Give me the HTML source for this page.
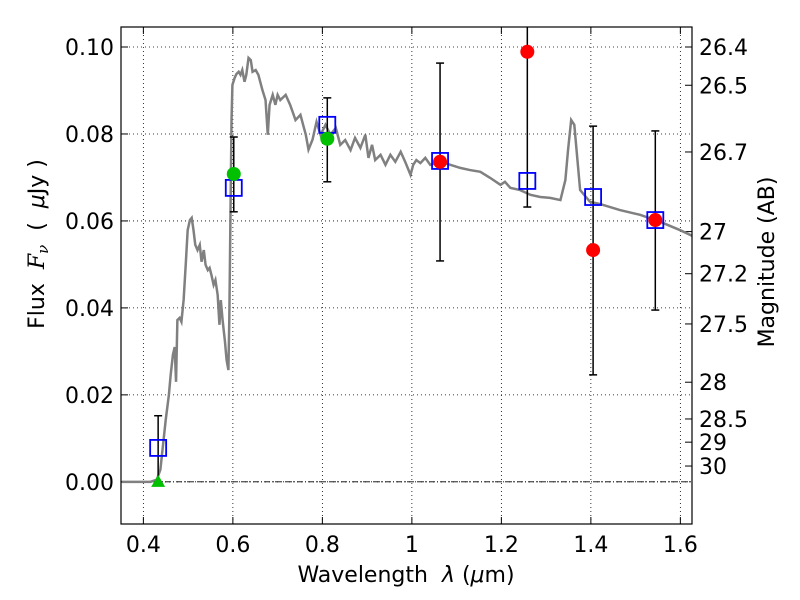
<!DOCTYPE html>
<html><head><meta charset="utf-8"><style>
body{margin:0;background:#fff}
svg{display:block;font-family:"DejaVu Sans","Liberation Sans",sans-serif}
</style></head><body>
<svg id="chart" width="800" height="600"></svg>
<script>
const specWave=[0.352,0.416,0.430,0.438,0.450,0.457,0.461,0.466,0.470,0.473,0.476,0.481,0.485,0.490,0.495,0.499,0.504,0.508,0.512,0.516,0.521,0.526,0.530,0.535,0.539,0.544,0.548,0.552,0.557,0.561,0.566,0.570,0.573,0.577,0.582,0.586,0.590,0.592,0.595,0.597,0.599,0.604,0.608,0.613,0.617,0.621,0.626,0.630,0.635,0.640,0.644,0.651,0.657,0.666,0.673,0.678,0.682,0.689,0.695,0.700,0.706,0.718,0.728,0.740,0.751,0.763,0.769,0.778,0.787,0.796,0.807,0.818,0.830,0.840,0.851,0.863,0.873,0.885,0.896,0.903,0.911,0.918,0.930,0.941,0.952,0.963,0.975,0.985,0.997,1.003,1.010,1.019,1.030,1.041,1.063,1.086,1.108,1.130,1.153,1.175,1.198,1.208,1.220,1.242,1.265,1.287,1.309,1.332,1.343,1.349,1.356,1.363,1.370,1.376,1.398,1.420,1.465,1.510,1.555,1.599,1.626];
const specFlux=[0,0,0.0005,0.0028,0.0143,0.0200,0.0246,0.0292,0.0310,0.0230,0.0372,0.0377,0.0368,0.0419,0.0506,0.0579,0.0602,0.0607,0.0579,0.0545,0.0533,0.0545,0.0506,0.0533,0.0499,0.0487,0.0492,0.0476,0.0453,0.0464,0.0430,0.0361,0.0418,0.0372,0.0326,0.0280,0.0257,0.0372,0.0648,0.0832,0.0913,0.0929,0.0938,0.0943,0.0936,0.0947,0.0920,0.0936,0.0975,0.0970,0.0943,0.0947,0.0936,0.0901,0.0878,0.0798,0.0867,0.0890,0.0867,0.0890,0.0878,0.0890,0.0867,0.0832,0.0844,0.0798,0.0764,0.0787,0.0828,0.0798,0.0821,0.0798,0.0814,0.0775,0.0786,0.0763,0.0791,0.0768,0.0798,0.0745,0.0775,0.0740,0.0752,0.0729,0.0752,0.0736,0.0759,0.0736,0.0706,0.0729,0.0740,0.0733,0.0745,0.0729,0.0736,0.0729,0.0722,0.0717,0.0713,0.0699,0.0683,0.0690,0.0676,0.0671,0.0660,0.0655,0.0653,0.0648,0.0694,0.0763,0.0832,0.0821,0.0740,0.0671,0.0644,0.0639,0.0625,0.0614,0.0598,0.0579,0.0566];
const modelWave=[0.433,0.602,0.811,1.063,1.258,1.405,1.544];
const modelFlux=[0.0078,0.0676,0.0821,0.0738,0.0692,0.0655,0.0602];
const obsWave=[0.433,0.602,0.811,1.063,1.258,1.405,1.544];
const obsFlux=[0,0.0708,0.0789,0.0736,0.0989,0.0533,0.0602];
const errLow=[0,0.0621,0.0690,0.0508,0.0632,0.0246,0.0395];
const errHigh=[0.0152,0.0793,0.0883,0.0963,0.135,0.0818,0.0807];
const obsKind=['tri','green','green','red','red','red','red'];
const xTicks=[0.4,0.6,0.8,1.0,1.2,1.4,1.6];
const xTickLabels=['0.4','0.6','0.8','1','1.2','1.4','1.6'];
const yTicks=[0,0.02,0.04,0.06,0.08,0.10];
const yTickLabels=['0.00','0.02','0.04','0.06','0.08','0.10'];
const magTicks=[26.4,26.5,26.7,27,27.2,27.5,28,28.5,29,30];

const L=121,R=692,T=27,B=524,X0=0.35,X1=1.626,Y0=-0.0097,Y1=0.1046;
const sx=v=>L+(v-X0)/(X1-X0)*(R-L);
const sy=v=>B-(v-Y0)/(Y1-Y0)*(B-T);
const svg=document.getElementById('chart');
const NS='http://www.w3.org/2000/svg';
function mk(tag,attrs,parent){const e=document.createElementNS(NS,tag);for(const k in attrs)e.setAttribute(k,attrs[k]);(parent||svg).appendChild(e);return e;}
const clip=mk('clipPath',{id:'pc'});mk('rect',{x:L,y:T,width:R-L,height:B-T},clip);

xTicks.forEach((t,i)=>{const g=mk('line',{x1:sx(t),x2:sx(t),y1:T,y2:B,stroke:'#000','stroke-dasharray':'1,3','stroke-width':0.8});


const tx=mk('text',{x:sx(t),y:B+28,'font-size':22,'text-anchor':'middle'});tx.textContent=xTickLabels[i];


mk('line',{x1:sx(t),x2:sx(t),y1:B,y2:B-7,stroke:'#000'});mk('line',{x1:sx(t),x2:sx(t),y1:T,y2:T+7,stroke:'#000'});});
yTicks.forEach((t,i)=>{const g=mk('line',{x1:L,x2:R,y1:sy(t),y2:sy(t),stroke:'#000','stroke-dasharray':'1,3','stroke-width':0.8});


const tx=mk('text',{x:L-7,y:sy(t)+8,'font-size':22,'text-anchor':'end'});tx.textContent=yTickLabels[i];


mk('line',{x1:L,x2:L+7,y1:sy(t),y2:sy(t),stroke:'#000'});});
magTicks.forEach(m=>{const f=Math.pow(10,(23.9-m)/2.5);const y=sy(f);
mk('line',{x1:R,x2:R-7,y1:y,y2:y,stroke:'#000'});
const tx=mk('text',{x:R+7,y:y+8,'font-size':22});tx.textContent=String(m);

});
const zl=mk('line',{x1:L,x2:R,y1:sy(0),y2:sy(0),stroke:'#000','stroke-width':0.8,'stroke-dasharray':'6,2,1,2'});



const g=mk('g',{'clip-path':'url(#pc)'});
const sp=mk('polyline',{points:specWave.map((w,i)=>sx(w)+','+sy(specFlux[i])).join(' '),fill:'none',stroke:'#808080','stroke-width':2.5},g);


obsWave.forEach((w,i)=>{const x=sx(w);const e=mk('g',{},g);


mk('line',{x1:x,x2:x,y1:sy(errLow[i]),y2:sy(errHigh[i]),stroke:'#000','stroke-width':1.5},e);
mk('line',{x1:x-4,x2:x+4,y1:sy(errLow[i]),y2:sy(errLow[i]),stroke:'#000','stroke-width':1.5},e);
mk('line',{x1:x-4,x2:x+4,y1:sy(errHigh[i]),y2:sy(errHigh[i]),stroke:'#000','stroke-width':1.5},e);});
modelWave.forEach((w,i)=>{const r=mk('rect',{x:sx(w)-8,y:sy(modelFlux[i])-8,width:16,height:16,fill:'none',stroke:'#0000ff','stroke-width':1.8},g);

});
obsWave.forEach((w,i)=>{const x=sx(w),y=sy(obsFlux[i]);let m;
if(obsKind[i]==='tri'){m=mk('polygon',{points:`${x},${y-7} ${x-7},${y+5} ${x+7},${y+5}`,fill:'#00c000'},g);}
else{m=mk('circle',{cx:x,cy:y,r:7,fill:obsKind[i]==='red'?'#ff0000':'#00c000'},g);}

});
const fr=mk('rect',{x:L,y:T,width:R-L,height:B-T,fill:'none',stroke:'#000','stroke-width':1.2});


</script>
<svg style="position:absolute;left:0;top:0" width="800" height="600">
<text x="406" y="582" font-size="22" text-anchor="middle" font-family="DejaVu Sans,sans-serif">Wavelength&#160;&#160;<tspan font-style="italic">λ</tspan> (<tspan font-style="italic">μ</tspan>m)</text>
<text transform="translate(44,244) rotate(-90)" font-size="22" text-anchor="middle" font-family="DejaVu Sans,sans-serif">Flux&#160;&#160;<tspan font-style="italic" font-family="DejaVu Serif,serif">F<tspan font-size="15" dy="4">ν</tspan></tspan><tspan dy="-4">&#160;&#160;(&#160;&#160;</tspan><tspan font-style="italic">μ</tspan>Jy )</text>
<text transform="translate(774,262) rotate(-90)" font-size="22" text-anchor="middle" font-family="DejaVu Sans,sans-serif">Magnitude (AB)</text>
</svg>
</body></html>
